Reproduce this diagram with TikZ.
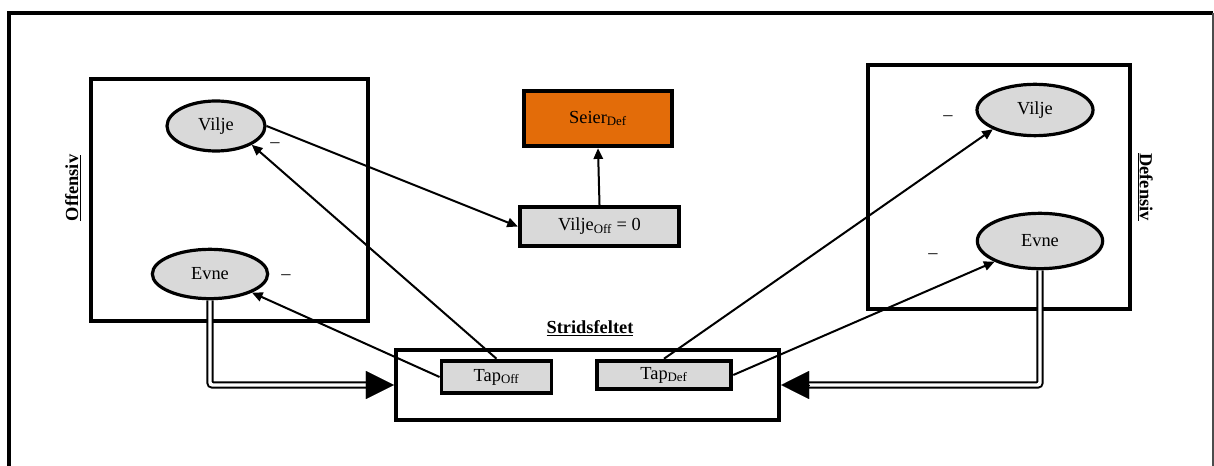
\documentclass[tikz,border=0pt]{standalone}
\usepackage{fontspec}
\setmainfont{Liberation Serif}
\usetikzlibrary{arrows.meta,shapes.geometric}
\definecolor{seierorange}{HTML}{E36C09}
\definecolor{boxgray}{HTML}{D9D9D9}
\begin{document}
\begin{tikzpicture}[x=0.75pt,y=-0.75pt,
        font=\fontsize{13.8}{16}\selectfont,
        side/.style = {draw,line width=2.9pt,inner sep=0pt},
        factor/.style = {ellipse,draw,line width=2.4pt,fill=boxgray,inner sep=0pt},
        result/.style = {draw,line width=2.9pt,fill=boxgray,inner sep=0pt},
        title/.style = {font=\fontsize{13.8}{16}\selectfont\bfseries},
        arrow/.style = {line width=1.5pt,-{Triangle[length=8pt,width=7pt]}},
        flow/.style = {double,line width=1.5pt,double distance=2.6pt,rounded corners=2pt},
        flowtip/.style = {line width=0.1pt,-{Triangle[length=21pt,width=21pt]}}]
    \useasboundingbox (0,0) rectangle (1214,466);

    % frame
    \draw[line width=2.8pt] (9,466) -- (9,13) -- (1213,13);
    \draw[gray!60!black,line width=0.9pt] (1213,13) -- (1213,466);

    % offensive side
    \node[side,minimum width=208pt,minimum height=182pt] (offbox) at (229.5,200) {};
    \node[title,rotate=90] (offlabel) at (73,188) {\underline{Offensiv}};
    \node[factor,minimum width=73.5pt,minimum height=37.5pt] (offvilje) at (216,126) {Vilje};
    \node[factor,minimum width=86.5pt,minimum height=37pt] (offevne) at (210,274) {Evne};
    \node (offminusa) at (275,145) {–};
    \node (offminusb) at (286,277) {–};

    % outcome
    \node[result,fill=seierorange,minimum width=111.5pt,minimum height=41.75pt] (seier) at (598,118.5) {Seier\textsubscript{Def}};
    \node[result,minimum width=119.5pt,minimum height=29.5pt] (viljeoff) at (599.5,226.5) {Vilje\textsubscript{Off} = 0};

    % battlefield
    \node[title] (sflabel) at (590,328) {\underline{Stridsfeltet}};
    \node[side,minimum width=287.5pt,minimum height=53pt] (sf) at (587.5,385) {};
    \node[result,minimum width=82.5pt,minimum height=24.5pt] (tapoff) at (496.5,377) {Tap\textsubscript{Off}};
    \node[result,minimum width=101pt,minimum height=21.5pt] (tapdef) at (664,375) {Tap\textsubscript{Def}};

    % defensive side
    \node[side,minimum width=197pt,minimum height=183.5pt] (defbox) at (999,187) {};
    \node[title,rotate=-90] (deflabel) at (1145,187) {\underline{Defensiv}};
    \node[factor,minimum width=87pt,minimum height=38.5pt] (defvilje) at (1035,110) {Vilje};
    \node[factor,minimum width=94pt,minimum height=41.5pt] (defevne) at (1040,241) {Evne};
    \node (defminusa) at (948,118) {–};
    \node (defminusb) at (933,256) {–};

    % arrows
    \draw[arrow] (offvilje.east) -- (viljeoff.west);
    \draw[arrow] (viljeoff.north) -- (seier.south);
    \draw[arrow] (tapoff.north) -- (offvilje.south east);
    \draw[arrow] (tapoff.west) -- (offevne.south east);
    \draw[arrow] (tapdef.north) -- (defvilje.south west);
    \draw[arrow] (tapdef.east) -- (defevne.south west);

    % flows into the battlefield
    \coordinate (sfin) at ([xshift=-21pt]sf.west);
    \coordinate (sfout) at ([xshift=21pt]sf.east);
    \draw[flow] (offevne.south) |- (sfin);
    \draw[flowtip] (sfin) -- (sf.west);
    \draw[flow] (defevne.south) |- (sfout);
    \draw[flowtip] (sfout) -- (sf.east);
\end{tikzpicture}
\end{document}
